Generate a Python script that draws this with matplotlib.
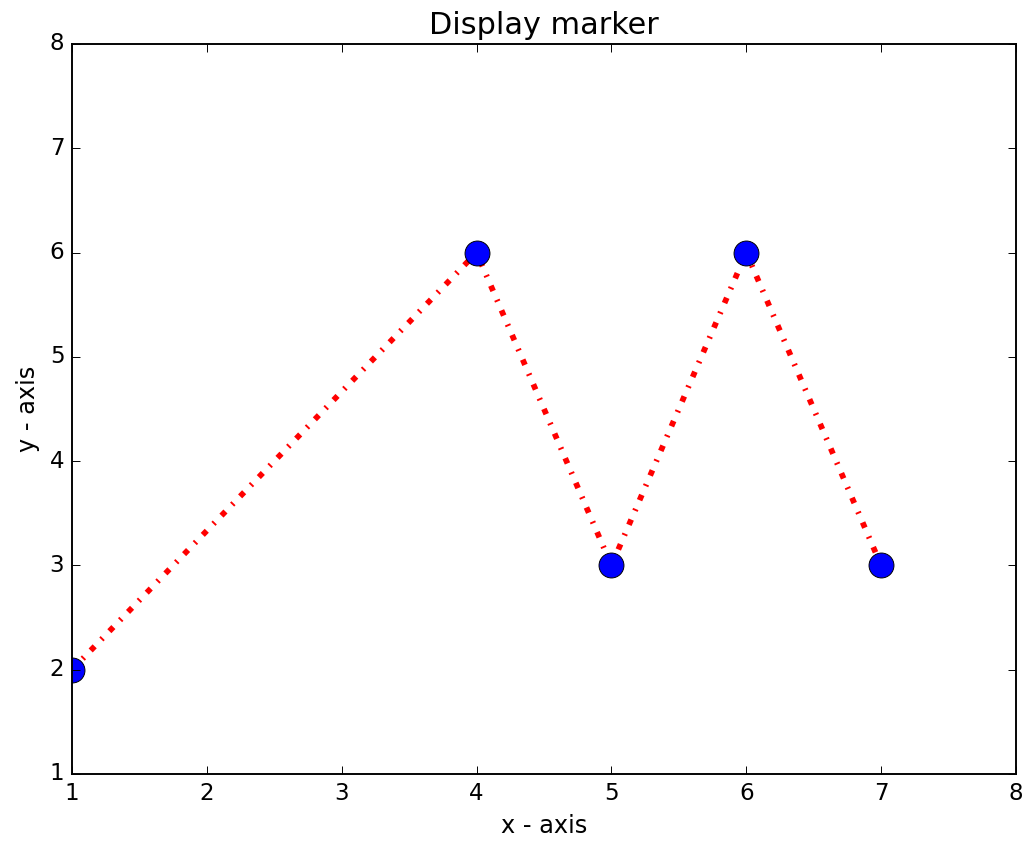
import matplotlib
matplotlib.use("Agg")
import matplotlib.pyplot as plt

plt.style.use("classic")

x_values = [1, 4, 5, 6, 7]
y_values = [2, 6, 3, 6, 3]

fig = plt.figure(figsize=(1022 / 138, 845 / 138), dpi=138)
ax = fig.add_axes([72 / 1022, 1 - 774 / 845, (1016 - 72) / 1022, (774 - 44) / 845])

ax.plot(x_values, y_values, color="red", linestyle="-.", linewidth=3,
        marker="o", markerfacecolor="blue", markersize=13)

ax.set_xlim(1, 8)
ax.set_ylim(1, 8)
ax.set_title("Display marker", fontsize=15.8)
ax.set_xlabel("x - axis", fontsize=12.5)
ax.set_ylabel("y - axis", fontsize=12.5)

fig.savefig("out.png", dpi=138)
